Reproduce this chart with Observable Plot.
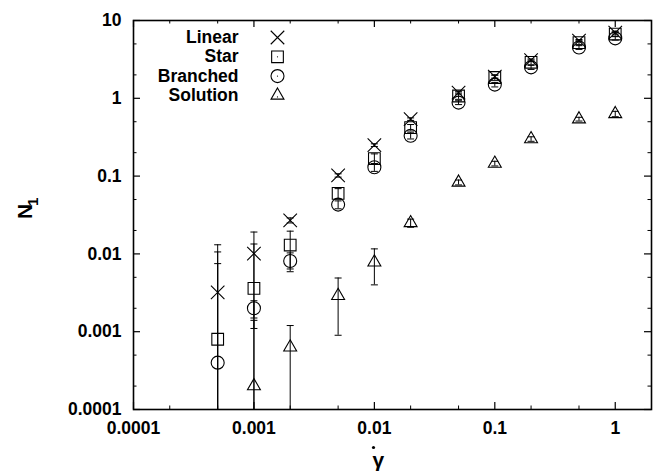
<!DOCTYPE html>
<html><head><meta charset="utf-8">
<script src="https://cdn.jsdelivr.net/npm/d3@7"></script>
<script src="https://cdn.jsdelivr.net/npm/@observablehq/plot@0.6"></script>
<style>html,body{margin:0;padding:0;background:#fff} #chart{width:654px;height:472px}</style>
</head><body><div id="chart"></div>
<script>
// ---- data ----
const shearRates = [0.0005, 0.001, 0.002, 0.005, 0.01, 0.02, 0.05, 0.1, 0.2, 0.5, 1];
const linearN1   = [0.0032, 0.0101, 0.027, 0.102, 0.25, 0.54, 1.18, 1.9, 3.1, 5.5, 7.0];
const linearErr  = [0.0099, 0.009, 0.002, 0.005, 0.01, 0.02, 0.05, 0.08, 0.1, 0.2, 0.3];
const starN1     = [0.0008, 0.0036, 0.013, 0.060, 0.168, 0.42, 1.07, 1.85, 2.9, 5.2, 6.7];
const starErr    = [0.0098, 0.0098, 0.0066, 0.009, 0.025, 0.04, 0.1, 0.15, 0.2, 0.3, 0.4];
const branchedN1 = [0.0004, 0.0020, 0.0081, 0.043, 0.13, 0.33, 0.88, 1.5, 2.5, 4.5, 5.9];
const branchedErr= [0.0071, 0.0005, 0.0022, 0.005, 0.015, 0.03, 0.05, 0.1, 0.15, 0.25, 0.3];
const solutionRates = [0.001, 0.002, 0.005, 0.01, 0.02, 0.05, 0.1, 0.2, 0.5, 1];
const solutionN1  = [0.0002, 0.00063, 0.0029, 0.0078, 0.025, 0.083, 0.145, 0.30, 0.54, 0.63];
const solutionErr = [0.0012, 0.00057, 0.002, 0.0038, 0.003, 0.006, 0.01, 0.02, 0.03, 0.05];

const seriesNames   = ["Linear", "Star", "Branched", "Solution"];
const seriesSymbols = ["times", "square", "circle", "triangle"];

const xTickValues = [0.0001, 0.001, 0.01, 0.1, 1];
const xTickLabels = ["0.0001", "0.001", "0.01", "0.1", "1"];
const yTickValues = [0.0001, 0.001, 0.01, 0.1, 1, 10];
const yTickLabels = ["0.0001", "0.001", "0.01", "0.1", "1", "10"];
const xMinorTicks = [0.0002, 0.0005, 0.002, 0.005, 0.02, 0.05, 0.2, 0.5];
const yMinorTicks = [0.0002, 0.0005, 0.002, 0.005, 0.02, 0.05, 0.2, 0.5, 2, 5];
const xTitle = "\u03B3";
const yTitleMain = "N";
const yTitleSub = "1";

// ---- build table ----
const seriesData = [
  [shearRates, linearN1, linearErr],
  [shearRates, starN1, starErr],
  [shearRates, branchedN1, branchedErr],
  [solutionRates, solutionN1, solutionErr]
];
const rows = [];
seriesData.forEach(([xs, ys, es], s) => {
  xs.forEach((x, i) => {
    const lo = ys[i] - es[i];
    rows.push({series: seriesNames[s], s, x, y: ys[i], hi: ys[i] + es[i], lo: lo > 0 ? lo : 1e-7, loOk: lo >= 1e-4});
  });
});

const W = 654, H = 472, mL = 133, mR = 3, mT = 20, mB = 63;
const fw = W - mL - mR, fh = H - mT - mB;
const cap = {draw(ctx) { ctx.moveTo(-3.5, 0); ctx.lineTo(3.5, 0); }};
const symR = {times: 6.2, square: 6.6, circle: 6.5, triangle: 4.8};
const font = {fontFamily: "Liberation Sans, Arial, sans-serif", fontWeight: "bold"};

const marks = [
  // error bars
  Plot.ruleX(rows, {x: "x", y1: "lo", y2: "hi", stroke: "black", strokeWidth: 1, clip: true}),
  Plot.dot(rows, {x: "x", y: "hi", symbol: cap, stroke: "black", strokeWidth: 1, r: 3}),
  Plot.dot(rows.filter(d => d.loOk), {x: "x", y: "lo", symbol: cap, stroke: "black", strokeWidth: 1, r: 3}),
];
seriesNames.forEach((name, s) => {
  const sym = seriesSymbols[s];
  const ly = 17 + 19.3 * s;
  marks.push(Plot.dot(rows.filter(d => d.s === s), {x: "x", y: "y", symbol: sym, r: symR[sym], stroke: "black", fill: "none", strokeWidth: 1.1}));
  // legend
  marks.push(Plot.text([name], {frameAnchor: "top-left", dx: 105, dy: ly, text: d => d, textAnchor: "end", lineAnchor: "middle", fontSize: 17.5, ...font, fill: "black"}));
  marks.push(Plot.dot([name], {frameAnchor: "top-left", dx: 144, dy: ly, symbol: sym, r: symR[sym], stroke: "black", fill: "none", strokeWidth: 1.1}));
  marks.push(Plot.dot([name], {frameAnchor: "top-left", dx: 144, dy: ly + (sym === "triangle" ? 1.5 : 0), r: 0.6, fill: "black", stroke: "none"}));
});
marks.push(
  // inward ticks (mirrored)
  Plot.ruleX(xTickValues, {x: d => d, insetTop: fh - 7, stroke: "black", strokeWidth: 1.2}),
  Plot.ruleX(xTickValues, {x: d => d, insetBottom: fh - 7, stroke: "black", strokeWidth: 1.2}),
  Plot.ruleX(xMinorTicks, {x: d => d, insetTop: fh - 3.5, stroke: "black", strokeWidth: 1}),
  Plot.ruleX(xMinorTicks, {x: d => d, insetBottom: fh - 3.5, stroke: "black", strokeWidth: 1}),
  Plot.ruleY(yTickValues, {y: d => d, insetRight: fw - 7, stroke: "black", strokeWidth: 1.2}),
  Plot.ruleY(yTickValues, {y: d => d, insetLeft: fw - 7, stroke: "black", strokeWidth: 1.2}),
  Plot.ruleY(yMinorTicks, {y: d => d, insetRight: fw - 3.5, stroke: "black", strokeWidth: 1}),
  Plot.ruleY(yMinorTicks, {y: d => d, insetLeft: fw - 3.5, stroke: "black", strokeWidth: 1}),
  Plot.frame({stroke: "black", strokeWidth: 1.6}),
  Plot.axisX(xTickValues, {tickSize: 0, tickPadding: 12, tickFormat: d => xTickLabels[xTickValues.indexOf(d)], fontSize: 17.5, ...font, label: null, fill: "black"}),
  Plot.axisY(yTickValues, {tickSize: 0, tickPadding: 12, tickFormat: d => yTickLabels[yTickValues.indexOf(d)], fontSize: 17.5, ...font, label: null, fill: "black"}),
  // axis titles (gamma with an overdot)
  Plot.text([xTitle], {frameAnchor: "bottom-left", dx: 239, dy: 51, text: d => d, lineAnchor: "middle", fontSize: 21, ...font, fill: "black"}),
  Plot.dot([xTitle], {frameAnchor: "bottom-left", dx: 240, dy: 38, r: 1.6, fill: "black", stroke: "none"}),
  Plot.text([yTitleMain], {frameAnchor: "left", dx: -108, dy: 4, rotate: -90, text: d => d, lineAnchor: "middle", fontSize: 21, ...font, fill: "black"}),
  Plot.text([yTitleSub], {frameAnchor: "left", dx: -100, dy: -9, rotate: -90, text: d => d, lineAnchor: "middle", fontSize: 15, ...font, fill: "black"})
);

const chart = Plot.plot({
  width: W, height: H,
  marginLeft: mL, marginRight: mR, marginTop: mT, marginBottom: mB,
  style: {background: "white", color: "black", fontFamily: "Liberation Sans, Arial, sans-serif"},
  x: {type: "log", domain: [1e-4, 2], axis: null},
  y: {type: "log", domain: [1e-4, 10], axis: null},
  marks
});
document.getElementById("chart").appendChild(chart);
</script>
</body></html>
